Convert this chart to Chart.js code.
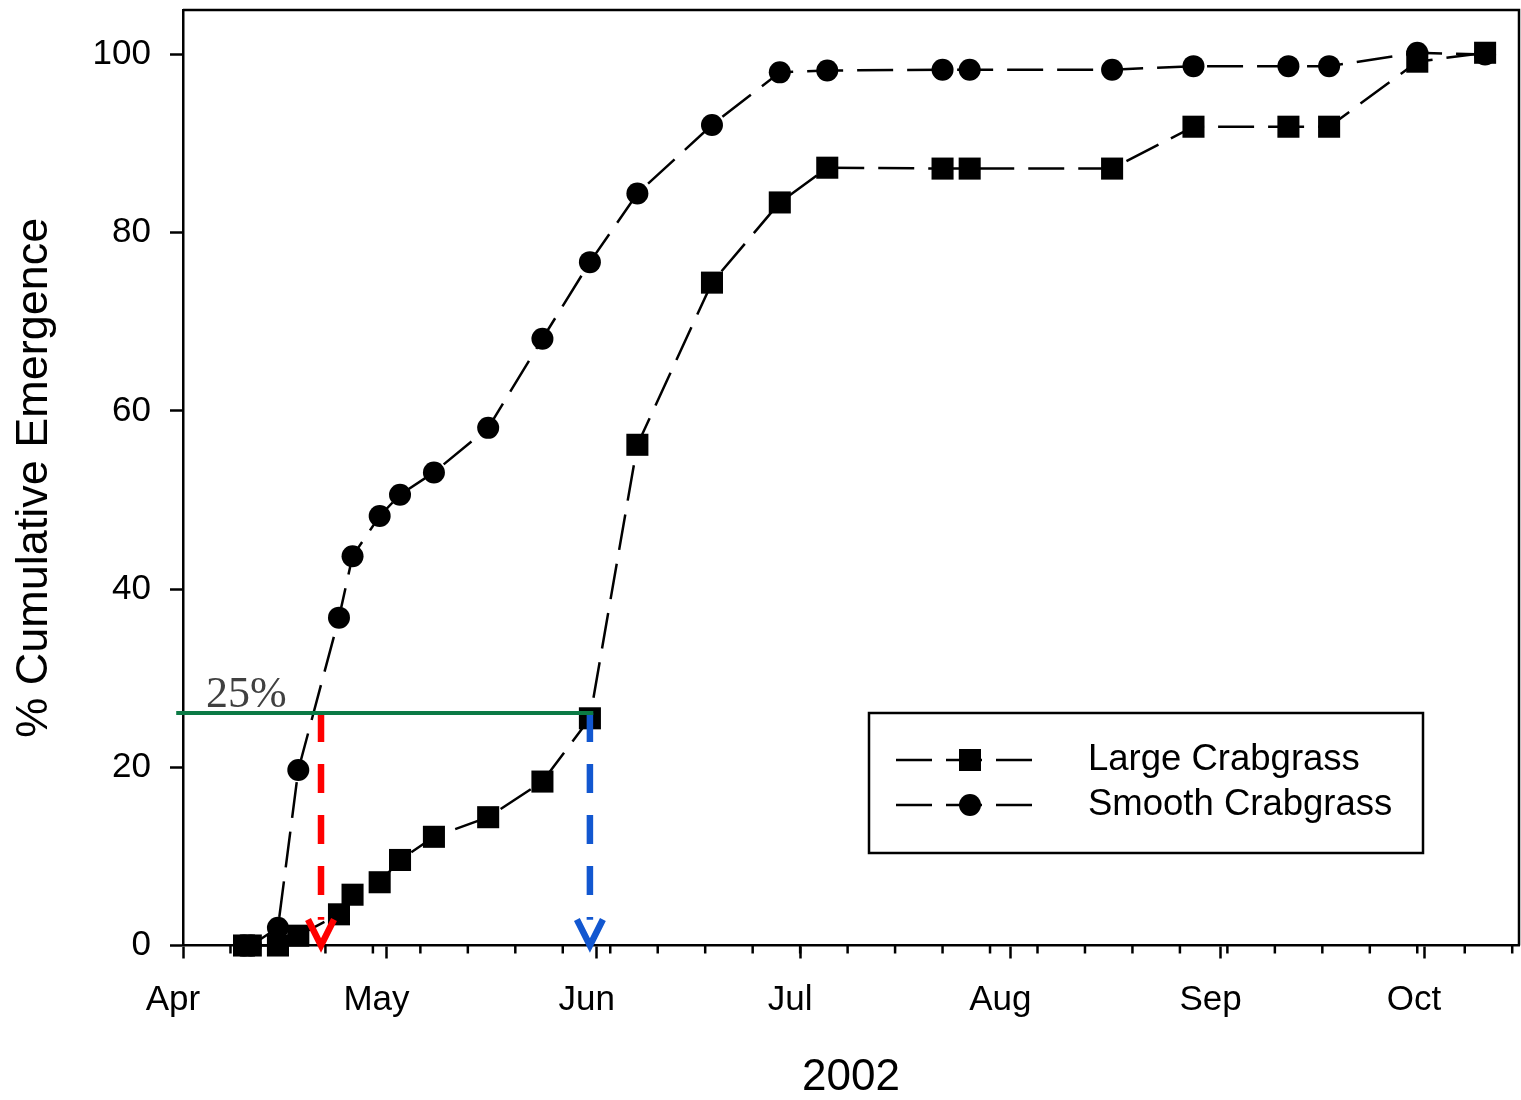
<!DOCTYPE html>
<html>
<head>
<meta charset="utf-8">
<script src="https://cdn.jsdelivr.net/npm/chart.js@4.4.1/dist/chart.umd.min.js"></script>
<style>
html, body { margin: 0; padding: 0; background: #ffffff; }
#wrap { width: 1521px; height: 1100px; position: relative; }
</style>
</head>
<body>
<div id="wrap"><canvas id="c" width="1521" height="1100"></canvas></div>
<script>
// ---- data (x values are days after 1 April 2002) ----
const monthTickDays = [0, 30, 61, 91, 122, 153, 183];
const monthLabels = ['Apr', 'May', 'Jun', 'Jul', 'Aug', 'Sep', 'Oct'];
const weekTickDays = [7, 14, 21, 28, 35, 42, 49, 56, 63, 70, 77, 84, 91, 98, 105, 112, 119, 126, 133, 140, 147, 154, 161, 168, 175, 182, 189, 196];
const yTickValues = [0, 20, 40, 60, 80, 100];

const sampleDays = [9, 10, 14, 17, 23, 25, 29, 32, 37, 45, 53, 60, 67, 78, 88, 95, 112, 116, 137, 149, 163, 169, 182, 192];
const largeCrabgrass = [0, 0, 0, 1.1, 3.5, 5.7, 7.1, 9.6, 12.2, 14.4, 18.4, 25.5, 56.2, 74.4, 83.4, 87.3, 87.2, 87.2, 87.2, 91.9, 91.9, 91.9, 99.2, 100.2];
const smoothCrabgrass = [0, 0, 2.0, 19.7, 36.8, 43.7, 48.2, 50.6, 53.1, 58.1, 68.1, 76.7, 84.4, 92.1, 98.0, 98.2, 98.3, 98.3, 98.3, 98.7, 98.7, 98.7, 100.2, 100];
const seriesNames = ['Large Crabgrass', 'Smooth Crabgrass'];

const xTitle = '2002';
const yTitle = '% Cumulative Emergence';

const thresholdValue = 26.1;
const thresholdLabel = '25%';
const thresholdLabelDay = 3.4;
const thresholdSpanDays = [-1, 60.5];
const arrowDays = [20.35, 60];
const arrowShaftEnd = 2.9;
const arrowTip = 0;

const xMin = 0, xMax = 197, yMin = 0, yMax = 105;

// ---- styles ----
const SANS = '"Liberation Sans", Arial, sans-serif';
const SERIF = '"Liberation Serif", "Times New Roman", serif';
const arrowColors = ['#ff0000', '#1257d0'];
const thresholdColor = '#0b7a45';

const toPts = (xs, ys) => xs.map((d, i) => ({ x: d, y: ys[i] }));

const minorTicksPlugin = {
  id: 'minorTicks',
  afterDraw(chart) {
    const { ctx, chartArea, scales: { x } } = chart;
    ctx.save();
    ctx.strokeStyle = '#000';
    ctx.lineWidth = 2.5;
    weekTickDays.forEach(d => {
      const px = x.getPixelForValue(d);
      ctx.beginPath();
      ctx.moveTo(px, chartArea.bottom);
      ctx.lineTo(px, chartArea.bottom + 8);
      ctx.stroke();
    });
    // top and right frame edges
    ctx.beginPath();
    ctx.moveTo(chartArea.left, chartArea.top);
    ctx.lineTo(chartArea.right, chartArea.top);
    ctx.lineTo(chartArea.right, chartArea.bottom);
    ctx.stroke();
    ctx.restore();
  }
};

const annotationPlugin = {
  id: 'arrowsAndLabel',
  afterDatasetsDraw(chart) {
    const { ctx, scales: { x, y } } = chart;
    ctx.save();
    arrowDays.forEach((d, i) => {
      const px = x.getPixelForValue(d);
      const py = y.getPixelForValue(arrowTip);
      ctx.strokeStyle = arrowColors[i];
      ctx.lineWidth = 6.5;
      ctx.lineJoin = 'miter';
      ctx.lineCap = 'butt';
      ctx.beginPath();
      ctx.moveTo(px - 13, py - 26);
      ctx.lineTo(px, py);
      ctx.lineTo(px + 13, py - 26);
      ctx.stroke();
    });
    ctx.fillStyle = '#404040';
    ctx.font = '44px ' + SERIF;
    ctx.textBaseline = 'alphabetic';
    ctx.textAlign = 'left';
    ctx.fillText(thresholdLabel, x.getPixelForValue(thresholdLabelDay), y.getPixelForValue(thresholdValue) - 6);
    ctx.restore();
  }
};

const boxLegendPlugin = {
  id: 'boxLegend',
  afterDraw(chart) {
    const ctx = chart.ctx;
    ctx.save();
    ctx.strokeStyle = '#000';
    ctx.lineWidth = 2.5;
    ctx.strokeRect(869, 713, 554, 140);
    const rows = [3, 4];
    rows.forEach((di, i) => {
      const ds = chart.data.datasets[di];
      const yy = 760 + i * 45;
      ctx.strokeStyle = ds.borderColor;
      ctx.lineWidth = ds.borderWidth;
      ctx.setLineDash(ds.borderDash);
      ctx.beginPath();
      ctx.moveTo(896, yy);
      ctx.lineTo(1036, yy);
      ctx.stroke();
      ctx.setLineDash([]);
      ctx.fillStyle = ds.pointBackgroundColor;
      ctx.beginPath();
      if (ds.pointStyle === 'rect') {
        const h = ds.pointRadius * Math.SQRT1_2;
        ctx.rect(970 - h, yy - h, 2 * h, 2 * h);
      } else {
        ctx.arc(970, yy, ds.pointRadius, 0, Math.PI * 2);
      }
      ctx.fill();
      ctx.fillStyle = '#000';
      ctx.font = '36.5px ' + SANS;
      ctx.textBaseline = 'middle';
      ctx.textAlign = 'left';
      ctx.fillText(ds.label, 1088, yy);
    });
    ctx.restore();
  }
};

Chart.defaults.font.family = SANS;
Chart.defaults.color = '#000';

new Chart(document.getElementById('c'), {
  type: 'line',
  data: {
    datasets: [
      {
        label: 'threshold',
        data: thresholdSpanDays.map(d => ({ x: d, y: thresholdValue })),
        borderColor: thresholdColor, borderWidth: 4, pointRadius: 0, clip: false
      },
      {
        label: 'arrow1',
        data: [{ x: arrowDays[0], y: thresholdValue }, { x: arrowDays[0], y: arrowShaftEnd }],
        borderColor: arrowColors[0], borderWidth: 6.5, borderDash: [29, 22], pointRadius: 0, clip: false, borderCapStyle: 'butt'
      },
      {
        label: 'arrow2',
        data: [{ x: arrowDays[1], y: thresholdValue }, { x: arrowDays[1], y: arrowShaftEnd }],
        borderColor: arrowColors[1], borderWidth: 6.5, borderDash: [29, 22], pointRadius: 0, clip: false, borderCapStyle: 'butt'
      },
      {
        label: seriesNames[0],
        data: toPts(sampleDays, largeCrabgrass),
        borderColor: '#000', borderWidth: 2.5, borderDash: [36, 14],
        pointStyle: 'rect', pointRadius: 15.6, pointBackgroundColor: '#000', pointBorderWidth: 0,
        tension: 0, clip: false
      },
      {
        label: seriesNames[1],
        data: toPts(sampleDays, smoothCrabgrass),
        borderColor: '#000', borderWidth: 2.5, borderDash: [36, 14],
        pointStyle: 'circle', pointRadius: 11, pointBackgroundColor: '#000', pointBorderWidth: 0,
        tension: 0, clip: false
      }
    ]
  },
  options: {
    responsive: false,
    animation: false,
    layout: { autoPadding: false, padding: { top: 10, right: 2, left: 0, bottom: 0 } },
    plugins: { legend: { display: false }, tooltip: { enabled: false } },
    scales: {
      x: {
        type: 'linear',
        min: xMin, max: xMax,
        afterBuildTicks: s => { s.ticks = monthTickDays.map(v => ({ value: v })); },
        afterFit: s => { s.height = 154.5; s.paddingLeft = 0; s.paddingRight = 0; },
        ticks: {
          autoSkip: false, maxRotation: 0,
          font: { size: 35 }, color: '#000', padding: 21, labelOffset: -10,
          callback: v => monthLabels[monthTickDays.indexOf(v)]
        },
        grid: { drawOnChartArea: false, color: '#000', tickLength: 13, tickWidth: 2.5 },
        border: { display: true, color: '#000', width: 2.5 },
        title: { display: true, text: xTitle, font: { size: 44, lineHeight: 1 }, padding: { top: 0, bottom: 0 }, color: '#000' }
      },
      y: {
        type: 'linear',
        min: yMin, max: yMax,
        afterBuildTicks: s => { s.ticks = yTickValues.map(v => ({ value: v })); },
        afterFit: s => { s.width = 183; s.paddingTop = 0; s.paddingBottom = 0; },
        ticks: { font: { size: 35 }, color: '#000', padding: 19 },
        grid: { drawOnChartArea: false, color: '#000', tickLength: 13, tickWidth: 2.5 },
        border: { display: true, color: '#000', width: 2.5 },
        title: { display: true, text: yTitle, font: { size: 45, lineHeight: 1 }, padding: { top: 12, bottom: 0 }, color: '#000' }
      }
    }
  },
  plugins: [minorTicksPlugin, annotationPlugin, boxLegendPlugin]
});
</script>
</body>
</html>
